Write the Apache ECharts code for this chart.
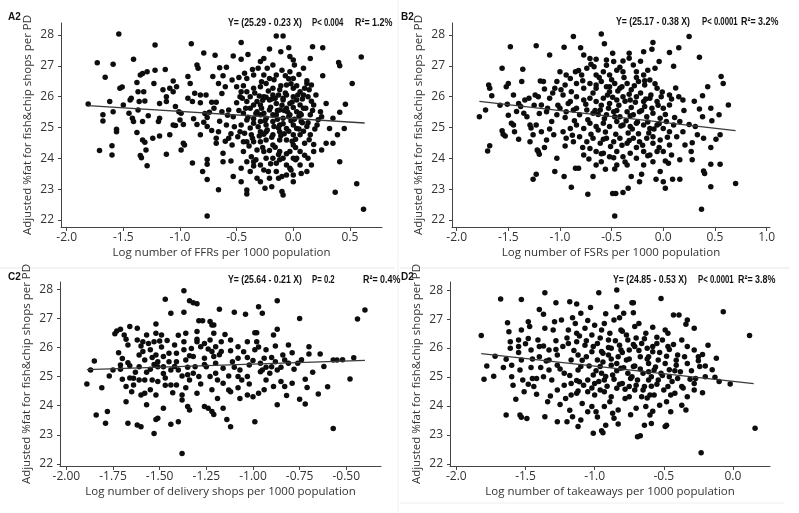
<!DOCTYPE html>
<html><head><meta charset="utf-8">
<script src="https://cdn.jsdelivr.net/npm/echarts@6/dist/echarts.min.js"></script>
<style>html,body{margin:0;padding:0;background:#fff}#c{width:799px;height:513px}</style>
</head><body><div id="c"></div>
<script>
// ---- Data ----
const ffrPoints = [[-1.54,28.03],[-1.73,27.10],[-1.66,26.63],[-1.59,27.05],[-1.41,27.21],[-1.22,27.68],[-0.90,27.72],[-0.79,27.42],[-0.69,27.34],[-0.46,27.76],[-0.53,27.32],[-0.46,27.21],[-0.40,27.37],[-0.15,27.97],[-0.09,27.97],[-0.21,27.55],[-0.11,27.46],[-0.04,27.59],[0.17,27.62],[0.26,27.59],[0.15,27.24],[0.60,27.29],[0.40,27.11],[0.41,27.00],[0.52,26.43],[0.26,26.68],[0.46,25.75],[-1.81,25.76],[-1.71,24.25],[-1.60,24.41],[-1.60,24.11],[-1.68,25.41],[-1.68,25.21],[-1.56,24.94],[-1.56,24.86],[-1.62,25.84],[-1.59,25.51],[-1.53,26.27],[-1.51,26.31],[-1.50,25.73],[-1.44,25.89],[-1.43,25.95],[-1.38,26.46],[-1.35,26.70],[-1.33,26.75],[-1.29,26.81],[-1.22,26.86],[-1.13,26.88],[-1.37,26.16],[-1.32,26.16],[-1.31,25.86],[-1.36,25.84],[-1.45,25.46],[-1.41,25.19],[-1.42,25.30],[-1.37,25.57],[-1.33,25.19],[-1.28,25.38],[-1.38,24.84],[-1.33,24.59],[-1.31,24.52],[-1.35,24.09],[-1.34,24.02],[-1.29,23.76],[-1.30,24.27],[-1.24,24.65],[-1.18,24.72],[-1.12,24.13],[-1.09,24.76],[-1.19,25.19],[-1.18,25.30],[-1.15,26.22],[-1.18,25.78],[-1.23,26.43],[-1.12,26.00],[-1.12,25.84],[-1.09,26.27],[-1.06,26.51],[-1.06,26.16],[-1.03,26.32],[-1.04,25.68],[-1.01,25.51],[-0.99,25.46],[-1.00,25.24],[-1.06,25.08],[-1.04,25.06],[-0.97,24.49],[-0.96,24.43],[-0.99,24.27],[-0.93,26.65],[-0.91,26.43],[-0.89,25.84],[-0.87,26.11],[-0.82,26.05],[-0.77,26.05],[-0.85,27.03],[-0.84,26.92],[-0.72,25.82],[-0.68,25.82],[-0.74,25.49],[-0.76,25.32],[-0.85,25.10],[-0.79,25.17],[-0.76,25.03],[-0.82,24.76],[-0.89,23.85],[-0.76,23.96],[-0.76,23.81],[-0.80,23.57],[-0.76,23.31],[-0.66,22.98],[-0.76,22.13],[-0.71,26.65],[-0.66,26.43],[-0.65,26.94],[-0.59,26.95],[-0.62,26.68],[-0.60,26.32],[-0.54,26.54],[-0.50,26.32],[-0.46,26.16],[-0.47,26.00],[-0.63,25.51],[-0.57,25.57],[-0.53,25.35],[-0.59,25.08],[-0.66,24.86],[-0.68,24.65],[-0.68,24.49],[-0.62,24.16],[-0.54,24.43],[-0.57,24.65],[-0.62,23.89],[-0.55,23.91],[-0.53,23.41],[-0.46,23.24],[-0.41,22.97],[-0.41,22.84],[0.56,23.17],[0.62,22.35],[0.37,22.90],[0.41,23.89],[0.35,24.49],[0.29,24.49],[0.39,24.76],[0.45,24.97],[0.32,24.97],[0.35,25.30],[0.41,25.49],[0.29,25.78],[0.24,25.51],[0.25,25.35],[0.21,25.08],[0.18,24.22],[0.25,24.27],[0.13,24.00],[0.16,23.78],[0.12,23.57],[0.07,23.51],[0.00,23.24],[0.00,23.46],[-0.03,23.68],[-0.09,22.81],[-0.10,22.92],[-0.19,23.08],[-0.25,23.03],[-0.29,23.24],[-0.38,23.57],[-0.32,23.35],[-0.26,23.62],[-0.22,23.57],[-0.13,23.35],[-0.10,23.41],[-0.06,23.78],[-0.15,23.84],[-0.18,24.00],[-0.26,24.22],[-0.32,24.27],[-0.37,24.05],[-0.44,24.22],[-0.41,24.54],[-0.47,24.86],[-0.49,24.70],[-0.43,24.81],[-0.37,24.76],[-0.29,24.86],[-0.24,24.59],[-0.18,24.43],[-0.12,24.59],[-0.03,24.22],[0.00,24.43],[0.06,24.76],[0.03,24.00],[0.10,24.49],[0.15,24.76],[0.12,25.03],[0.07,25.19],[0.00,25.08],[-0.06,24.97],[-0.12,25.08],[-0.18,25.19],[-0.24,25.08],[-0.29,25.19],[-0.35,25.14],[-0.41,25.24],[-0.46,25.08],[-0.44,25.46],[-0.38,25.62],[-0.32,25.51],[-0.26,25.46],[-0.21,25.57],[-0.15,25.41],[-0.09,25.30],[-0.03,25.41],[0.03,25.51],[0.09,25.62],[0.15,25.41],[0.18,25.73],[0.13,26.00],[0.10,26.27],[0.16,26.38],[0.12,26.43],[0.06,26.16],[0.03,25.89],[-0.03,25.78],[-0.09,25.89],[-0.15,25.78],[-0.21,25.89],[-0.26,26.00],[-0.32,25.84],[-0.38,26.00],[-0.41,26.16],[-0.35,26.27],[-0.29,26.32],[-0.24,26.43],[-0.18,26.27],[-0.12,26.22],[-0.06,26.38],[0.00,26.27],[0.00,26.59],[-0.03,26.81],[-0.10,26.86],[-0.15,26.70],[-0.21,26.59],[-0.26,26.70],[-0.31,26.92],[-0.35,26.70],[-0.41,26.59],[-0.43,26.76],[0.00,27.19],[0.01,27.03],[-0.03,27.30],[-0.29,27.14],[-0.18,27.03],[-0.26,27.24],[-0.24,25.30],[-0.18,25.41],[-0.29,25.41],[-0.12,24.86],[-0.24,24.86],[-0.18,24.76],[-0.06,24.59],[0.00,24.76],[0.03,24.97],[-0.06,25.62],[-0.12,25.57],[-0.18,26.05],[-0.06,26.05],[0.00,26.00],[0.06,25.73],[0.07,25.41],[-0.29,25.73],[-0.35,25.73],[-0.41,25.84],[-0.29,24.54],[-0.35,24.54],[-0.44,24.54],[-0.24,24.00],[-0.12,24.22],[-0.09,24.00],[0.00,24.00],[0.06,24.22],[-0.15,23.57],[-0.21,23.35],[-0.06,23.46],[0.06,23.78],[-0.29,23.78],[-0.35,23.89],[-0.41,23.89],[-0.46,23.68]];
const ffrCore = [[-0.45,25.95],[-0.42,25.62],[-0.40,25.33],[-0.38,24.98],[-0.36,24.65],[-0.34,26.12],[-0.33,25.45],[-0.31,25.02],[-0.30,24.72],[-0.28,26.48],[-0.27,25.88],[-0.25,25.22],[-0.23,24.92],[-0.22,26.18],[-0.20,25.66],[-0.19,24.68],[-0.17,26.55],[-0.16,25.95],[-0.14,25.27],[-0.13,24.98],[-0.11,26.35],[-0.10,25.72],[-0.09,25.12],[-0.08,24.80],[-0.07,26.12],[-0.05,25.50],[-0.04,24.88],[-0.02,26.42],[-0.01,25.83],[0.01,25.27],[0.02,24.62],[0.04,26.05],[0.05,25.36],[0.08,25.92],[0.09,24.88],[0.11,25.62],[0.13,25.15],[0.14,26.22],[0.17,25.55],[0.19,24.95],[0.20,26.05],[0.22,25.25],[-0.44,26.35],[-0.39,24.40],[-0.35,23.75],[-0.30,26.02],[-0.27,24.35],[-0.24,25.98],[-0.21,24.25],[-0.19,25.92],[-0.16,24.36],[-0.14,25.55],[-0.12,23.95],[-0.11,24.73],[-0.08,25.55],[-0.06,24.15],[-0.04,26.58],[-0.02,25.22],[0.00,25.65],[0.02,24.35],[0.03,26.35],[0.05,24.95],[0.08,25.15],[0.10,24.10],[0.12,26.52],[0.14,24.60],[0.16,25.85],[0.18,24.45],[-0.48,25.55],[-0.50,25.80],[-0.52,25.02],[-0.55,24.80],[-0.58,25.40],[-0.60,24.55],[-0.63,26.10],[-0.65,25.20],[-0.70,25.62],[-0.72,24.90],[-0.78,25.45],[-0.82,25.80],[-0.88,25.28],[-0.93,25.95],[-0.97,25.10],[-0.48,26.62],[-0.36,26.88],[-0.23,26.92],[-0.07,26.68],[0.05,26.72],[0.09,26.92],[-0.33,23.95],[-0.20,23.82],[-0.02,23.62],[0.02,23.95],[-0.13,24.12],[-0.26,24.78],[-0.09,25.95],[-0.17,25.03],[0.06,25.45],[-0.04,25.35],[-0.13,26.05],[-0.28,25.62],[-0.35,25.28],[0.09,26.05],[-0.01,24.55]];
const fsrPoints = [[-1.78,25.35],[-1.72,25.57],[-1.69,26.38],[-1.68,26.27],[-1.66,26.03],[-1.70,24.24],[-1.68,24.41],[-1.56,26.92],[-1.48,27.62],[-1.52,26.32],[-1.50,26.43],[-1.51,25.75],[-1.56,24.89],[-1.55,24.78],[-1.53,24.72],[-1.47,25.14],[-1.45,25.08],[-1.44,24.86],[-1.40,25.78],[-1.38,25.68],[-1.37,26.49],[-1.36,26.89],[-1.34,25.89],[-1.35,25.46],[-1.29,25.08],[-1.29,24.54],[-1.26,24.76],[-1.21,24.22],[-1.22,24.27],[-1.20,24.13],[-1.23,23.48],[-1.26,23.32],[-1.23,27.65],[-1.10,27.35],[-1.19,26.51],[-1.16,26.49],[-1.24,26.05],[-1.21,26.00],[-1.18,25.73],[-1.13,25.51],[-1.10,25.95],[-1.05,26.27],[-1.03,26.49],[-1.00,26.81],[-0.96,27.60],[-0.87,27.95],[-0.80,27.59],[-0.60,28.03],[-0.57,27.72],[-0.77,27.35],[-0.71,27.24],[-0.65,27.21],[-0.55,27.19],[-0.49,27.41],[-0.48,27.14],[-0.39,27.16],[-0.33,27.41],[-0.19,27.46],[-0.11,27.54],[-0.10,27.76],[-0.04,27.14],[0.06,27.43],[0.10,26.99],[0.15,27.59],[0.25,27.95],[0.35,27.28],[0.56,26.65],[0.58,26.43],[0.63,25.73],[0.54,25.41],[0.46,25.62],[0.43,26.32],[0.38,26.03],[0.47,25.22],[0.55,24.76],[0.51,24.62],[0.46,24.35],[0.39,24.65],[0.38,25.35],[0.31,25.03],[0.33,24.76],[0.27,24.22],[0.28,23.95],[0.39,23.59],[0.40,23.51],[0.46,23.81],[0.55,23.81],[0.46,23.08],[0.70,23.18],[0.37,22.35],[0.21,24.43],[0.19,24.86],[0.16,23.95],[0.16,23.32],[0.09,23.32],[0.02,23.03],[0.00,23.24],[-0.07,23.32],[-0.03,23.57],[0.02,23.91],[0.05,23.84],[-0.23,23.24],[-0.21,23.48],[-0.31,23.41],[-0.34,23.03],[-0.39,22.89],[-0.46,22.86],[-0.49,22.86],[-0.47,22.13],[-0.47,23.65],[-0.56,23.64],[-0.68,23.41],[-0.73,22.83],[-0.65,23.78],[-0.82,23.68],[-0.85,23.68],[-0.89,23.06],[-0.96,23.41],[-1.05,23.57],[-1.03,24.00],[-0.94,26.70],[-0.90,26.59],[-0.85,26.81],[-0.79,26.70],[-0.74,26.92],[-0.67,26.97],[-0.65,26.70],[-0.58,26.81],[-0.52,26.70],[-0.45,26.86],[-0.39,26.81],[-0.29,27.03],[-0.26,26.81],[-0.19,26.70],[-0.15,26.86],[-0.95,26.38],[-0.89,26.16],[-0.84,26.43],[-0.77,26.27],[-0.71,26.43],[-0.65,26.27],[-0.60,26.49],[-0.55,26.32],[-0.52,26.16],[-0.47,26.43],[-0.42,26.27],[-0.35,26.43],[-0.31,26.22],[-0.24,26.49],[-0.18,26.38],[-0.13,26.54],[-0.06,26.27],[-0.02,26.00],[0.06,26.05],[0.15,26.00],[0.19,25.89],[0.06,25.73],[0.00,25.62],[-0.06,25.84],[-0.13,25.95],[-0.19,25.84],[-0.26,26.00],[-0.32,25.89],[-0.39,26.00],[-0.45,25.89],[-0.52,25.78],[-0.58,25.95],[-0.65,25.84],[-0.71,25.95],[-0.77,25.89],[-0.84,26.00],[-0.90,25.84],[-0.97,26.05],[-1.00,25.62],[-0.94,25.51],[-0.87,25.57],[-0.81,25.41],[-0.74,25.57],[-0.68,25.46],[-0.61,25.57],[-0.55,25.41],[-0.48,25.51],[-0.42,25.35],[-0.35,25.51],[-0.29,25.41],[-0.23,25.51],[-0.16,25.35],[-0.10,25.46],[-0.03,25.30],[0.03,25.19],[0.10,25.08],[0.16,25.19],[0.06,24.86],[0.00,24.97],[-0.06,25.08],[-0.13,24.97],[-0.19,25.08],[-0.26,25.14],[-0.32,25.03],[-0.39,25.08],[-0.45,25.19],[-0.52,25.03],[-0.58,25.14],[-0.65,25.03],[-0.71,25.14],[-0.77,24.97],[-0.84,25.08],[-0.90,24.97],[-0.97,24.86],[-0.94,24.65],[-0.87,24.54],[-0.81,24.70],[-0.74,24.54],[-0.68,24.65],[-0.61,24.49],[-0.55,24.65],[-0.48,24.54],[-0.42,24.65],[-0.35,24.49],[-0.29,24.65],[-0.23,24.54],[-0.16,24.65],[-0.10,24.49],[-0.03,24.59],[-0.06,24.22],[-0.13,24.11],[-0.19,24.22],[-0.26,24.00],[-0.32,24.16],[-0.39,24.05],[-0.45,24.22],[-0.52,24.05],[-0.58,24.16],[-0.65,24.22],[-0.71,24.32],[-0.77,24.11],[0.06,24.43],[0.08,24.11],[0.13,24.70],[-0.35,23.78],[-0.19,23.78],[-0.10,23.89],[0.00,24.22],[-0.45,23.78],[-0.60,23.89],[-1.08,25.19],[-1.03,25.41],[-1.06,24.76],[-1.13,24.59],[-1.18,24.86],[-1.23,25.08]];
const fsrCore = [[-0.78,26.52],[-0.75,25.75],[-0.73,25.25],[-0.70,24.78],[-0.68,26.12],[-0.66,25.55],[-0.63,24.92],[-0.62,26.62],[-0.60,25.72],[-0.57,25.28],[-0.56,24.85],[-0.54,26.05],[-0.53,25.62],[-0.51,24.38],[-0.50,26.55],[-0.49,25.98],[-0.47,25.35],[-0.46,24.78],[-0.44,26.18],[-0.43,25.72],[-0.41,25.05],[-0.40,24.42],[-0.38,26.62],[-0.37,25.85],[-0.36,25.22],[-0.34,24.82],[-0.33,26.08],[-0.31,25.65],[-0.30,24.95],[-0.28,26.35],[-0.27,25.82],[-0.25,25.18],[-0.24,24.80],[-0.22,26.12],[-0.21,25.55],[-0.20,24.42],[-0.18,26.52],[-0.17,25.92],[-0.15,25.18],[-0.14,24.82],[-0.12,26.05],[-0.11,25.62],[-0.09,24.95],[-0.08,26.42],[-0.05,25.72],[-0.04,25.12],[-0.01,26.15],[0.02,25.42],[0.04,24.68],[0.08,25.92],[0.11,25.32],[0.12,26.28],[-0.86,25.22],[-0.88,24.75],[-0.92,25.78],[-0.95,25.32],[-0.99,26.22],[-1.02,25.72],[-1.07,26.12],[-1.12,25.62],[-1.15,26.25],[-1.20,25.45],[-1.25,25.72],[-1.30,25.95],[-1.32,25.35],[-1.42,25.52],[-1.45,26.05],[-1.50,25.40],[-1.58,25.72],[-0.82,26.85],[-0.70,27.05],[-0.55,27.02],[-0.42,26.95],[-0.33,27.25],[-0.22,27.15],[-0.08,26.92],[-0.72,23.98],[-0.60,24.15],[-0.48,24.02],[-0.37,23.88],[-0.26,24.35],[-0.15,24.08],[-0.04,24.35],[-0.63,25.42],[-0.45,25.55],[-0.32,25.38],[-0.18,25.68],[-0.52,26.32],[-0.40,26.32],[-0.26,26.62],[-0.65,26.38],[-0.58,24.62],[-0.33,24.58],[-0.10,24.70],[-0.84,25.62],[-0.78,24.35],[-0.95,24.40],[-1.10,24.95],[-1.15,24.35],[-1.28,24.98],[-1.40,24.62],[0.20,25.55],[0.25,25.10],[0.30,25.85],[0.28,24.50],[0.35,25.60]];
const deliveryPoints = [[-1.89,24.75],[-1.87,25.23],[-1.85,25.54],[-1.81,24.62],[-1.84,23.68],[-1.79,23.40],[-1.78,23.80],[-1.77,25.02],[-1.75,25.23],[-1.74,26.47],[-1.73,26.57],[-1.71,26.63],[-1.72,25.82],[-1.71,25.40],[-1.71,25.25],[-1.70,24.91],[-1.69,26.43],[-1.68,26.28],[-1.67,26.09],[-1.67,25.48],[-1.68,24.66],[-1.68,24.14],[-1.67,23.40],[-1.66,26.72],[-1.66,25.37],[-1.64,24.94],[-1.64,24.71],[-1.65,24.48],[-1.62,26.66],[-1.62,26.26],[-1.61,25.74],[-1.61,25.34],[-1.61,24.88],[-1.62,23.34],[-1.60,23.28],[-1.59,26.20],[-1.59,25.86],[-1.58,25.57],[-1.58,24.88],[-1.60,24.37],[-1.58,24.43],[-1.57,24.03],[-1.57,26.43],[-1.56,26.14],[-1.55,25.92],[-1.54,25.66],[-1.55,25.25],[-1.54,24.88],[-1.52,26.81],[-1.52,26.49],[-1.53,26.20],[-1.52,25.74],[-1.51,25.51],[-1.51,25.34],[-1.51,24.83],[-1.52,24.37],[-1.52,23.53],[-1.51,23.57],[-1.53,23.05],[-1.49,26.43],[-1.49,26.02],[-1.48,25.69],[-1.48,25.34],[-1.48,25.11],[-1.47,24.70],[-1.48,23.91],[-1.47,27.66],[-1.46,26.24],[-1.45,25.51],[-1.44,25.23],[-1.44,24.71],[-1.44,23.36],[-1.44,27.18],[-1.42,26.09],[-1.41,25.80],[-1.41,25.51],[-1.40,25.23],[-1.41,24.71],[-1.40,23.45],[-1.38,22.36],[-1.38,24.37],[-1.38,24.20],[-1.37,27.21],[-1.37,27.95],[-1.37,26.20],[-1.37,25.92],[-1.36,25.57],[-1.35,25.32],[-1.35,25.06],[-1.36,26.49],[-1.34,27.61],[-1.32,27.54],[-1.30,27.50],[-1.34,24.88],[-1.35,23.97],[-1.34,23.85],[-1.33,25.97],[-1.32,25.69],[-1.31,25.34],[-1.30,26.55],[-1.30,26.20],[-1.29,25.00],[-1.30,24.43],[-1.29,26.92],[-1.27,26.92],[-1.28,26.03],[-1.26,26.14],[-1.26,25.63],[-1.25,25.34],[-1.26,23.97],[-1.24,23.91],[-1.23,26.89],[-1.22,26.77],[-1.21,26.77],[-1.23,26.26],[-1.22,25.86],[-1.23,25.00],[-1.22,23.80],[-1.21,23.70],[-1.21,26.49],[-1.20,26.03],[-1.21,25.69],[-1.20,25.46],[-1.19,24.88],[-1.18,27.31],[-1.19,24.25],[-1.17,26.20],[-1.17,25.86],[-1.16,25.29],[-1.16,24.77],[-1.16,23.91],[-1.14,23.53],[-1.12,23.28],[-1.12,26.26],[-1.12,25.89],[-1.11,25.51],[-1.13,24.54],[-1.12,24.48],[-1.10,27.21],[-1.08,25.63],[-1.07,25.23],[-1.08,25.00],[-1.06,24.88],[-1.07,24.25],[-1.04,27.14],[-1.03,26.20],[-1.03,25.66],[-1.02,25.40],[-1.03,25.00],[-1.03,24.37],[-1.00,24.31],[-0.99,26.51],[-0.98,26.51],[-0.98,26.20],[-0.99,25.92],[-0.97,27.40],[-0.95,27.18],[-0.96,25.46],[-0.96,25.17],[-0.97,24.43],[-0.99,23.45],[-0.94,25.63],[-0.93,25.32],[-0.93,25.92],[-0.93,24.88],[-0.90,25.66],[-0.89,26.43],[-0.87,26.63],[-0.87,27.61],[-0.88,25.51],[-0.87,25.23],[-0.89,24.66],[-0.87,24.03],[-0.85,24.83],[-0.83,24.66],[-0.79,24.77],[-0.84,25.74],[-0.83,25.57],[-0.79,25.82],[-0.75,27.00],[-0.76,25.46],[-0.75,24.22],[-0.72,24.06],[-0.72,24.91],[-0.70,26.03],[-0.70,25.78],[-0.71,24.63],[-0.65,24.40],[-0.64,25.78],[-0.57,25.57],[-0.55,25.57],[-0.57,23.22],[-0.44,26.98],[-0.40,27.29],[-0.81,25.46],[-0.90,25.34],[-0.95,25.23],[-0.81,26.09],[-1.08,26.03]];
const deliveryCore = [[-1.70,25.62],[-1.66,24.95],[-1.63,25.15],[-1.60,26.05],[-1.57,25.15],[-1.55,24.55],[-1.53,25.42],[-1.50,26.22],[-1.47,24.95],[-1.45,25.80],[-1.43,24.45],[-1.42,25.35],[-1.40,26.42],[-1.38,25.02],[-1.36,24.62],[-1.34,25.72],[-1.32,25.12],[-1.30,26.28],[-1.28,24.75],[-1.26,25.42],[-1.24,25.95],[-1.22,24.55],[-1.20,25.12],[-1.18,25.75],[-1.15,26.45],[-1.13,25.02],[-1.10,25.32],[-1.08,24.62],[-1.05,25.85],[-1.02,24.75],[-1.00,25.55],[-0.97,26.02],[-0.94,24.55],[-0.91,25.12],[-0.88,26.05],[-0.85,25.32],[-0.82,24.35],[-0.78,25.25],[-0.74,25.58],[-0.68,25.15],[-0.62,25.35],[-0.60,24.65],[-0.52,25.58],[-0.48,24.92],[-0.46,25.65]];
const takeawayPoints = [[-1.82,26.43],[-1.78,25.38],[-1.80,24.92],[-1.73,25.03],[-1.72,25.72],[-1.68,27.69],[-1.66,25.33],[-1.64,25.61],[-1.64,23.69],[-1.63,26.87],[-1.62,26.56],[-1.61,26.22],[-1.61,25.99],[-1.60,25.41],[-1.60,25.01],[-1.59,24.72],[-1.57,24.23],[-1.54,23.69],[-1.53,23.61],[-1.53,27.68],[-1.53,26.62],[-1.55,26.28],[-1.55,26.05],[-1.53,25.59],[-1.54,25.24],[-1.52,24.90],[-1.51,24.49],[-1.49,23.57],[-1.48,26.91],[-1.47,26.74],[-1.48,26.33],[-1.46,25.93],[-1.46,25.33],[-1.45,24.95],[-1.44,24.67],[-1.42,24.41],[-1.40,27.33],[-1.41,26.28],[-1.40,25.70],[-1.39,25.33],[-1.37,25.01],[-1.36,27.91],[-1.37,27.17],[-1.36,26.68],[-1.36,23.63],[-1.37,26.07],[-1.34,24.15],[-1.33,25.93],[-1.33,25.59],[-1.33,25.24],[-1.31,24.90],[-1.30,26.62],[-1.29,26.91],[-1.28,26.25],[-1.28,27.56],[-1.27,25.76],[-1.27,25.41],[-1.27,24.55],[-1.27,23.46],[-1.24,26.97],[-1.23,26.05],[-1.22,25.13],[-1.21,24.26],[-1.20,23.46],[-1.18,27.60],[-1.19,26.62],[-1.19,26.16],[-1.17,25.59],[-1.17,24.78],[-1.16,23.63],[-1.13,27.52],[-1.14,26.85],[-1.13,26.51],[-1.13,26.22],[-1.12,25.76],[-1.12,25.24],[-1.13,24.44],[-1.12,23.29],[-1.10,27.20],[-1.10,25.36],[-1.09,24.09],[-1.10,23.52],[-1.07,26.68],[-1.07,26.10],[-1.06,25.70],[-1.05,24.90],[-1.05,24.49],[-1.03,27.40],[-1.02,26.45],[-1.02,25.87],[-1.01,25.07],[-1.00,24.38],[-0.99,23.80],[-0.97,27.91],[-0.98,26.16],[-0.98,25.59],[-0.96,25.36],[-0.95,23.15],[-0.94,23.08],[-0.95,26.62],[-0.94,25.82],[-0.93,24.90],[-0.93,24.49],[-0.92,23.34],[-0.90,26.28],[-0.89,26.51],[-0.88,25.99],[-0.88,25.41],[-0.87,25.07],[-0.87,23.75],[-0.86,26.97],[-0.84,28.00],[-0.84,27.43],[-0.83,25.70],[-0.83,23.38],[-0.82,26.10],[-0.81,25.30],[-0.80,24.78],[-0.79,27.20],[-0.78,24.26],[-0.77,25.59],[-0.76,26.28],[-0.75,25.93],[-0.73,25.01],[-0.73,27.56],[-0.72,27.56],[-0.72,27.22],[-0.71,26.74],[-0.72,25.36],[-0.71,24.55],[-0.70,23.92],[-0.69,22.94],[-0.67,22.97],[-0.67,25.70],[-0.66,26.16],[-0.65,25.13],[-0.64,23.34],[-0.63,26.51],[-0.62,25.99],[-0.61,25.47],[-0.61,24.90],[-0.60,24.38],[-0.60,23.69],[-0.59,23.40],[-0.58,25.87],[-0.57,25.24],[-0.55,26.37],[-0.55,26.16],[-0.54,25.59],[-0.54,24.90],[-0.53,24.03],[-0.52,27.71],[-0.49,23.29],[-0.48,23.34],[-0.47,26.05],[-0.46,25.95],[-0.47,24.67],[-0.45,24.38],[-0.45,23.80],[-0.43,27.14],[-0.39,27.14],[-0.42,25.22],[-0.41,25.41],[-0.40,24.95],[-0.37,24.03],[-0.34,23.86],[-0.34,26.82],[-0.33,26.97],[-0.31,24.92],[-0.28,26.68],[-0.27,24.95],[-0.25,25.56],[-0.24,25.36],[-0.22,24.46],[-0.20,25.38],[-0.20,25.01],[-0.18,26.10],[-0.13,24.99],[-0.23,22.39],[-0.07,27.25],[-0.02,24.76],[0.12,26.43],[0.16,23.23],[-0.75,24.32],[-0.88,24.32],[-0.93,23.98],[-1.02,23.98],[-1.05,23.80],[-1.01,23.06],[-1.11,24.84],[-1.17,24.38],[-0.83,23.86],[-0.63,23.98],[-0.57,24.38],[-0.66,24.32],[-0.52,25.13],[-0.49,25.47],[-0.75,24.67],[-0.84,24.61],[-0.96,24.55],[-1.00,24.78],[-0.95,25.13],[-0.90,25.76],[-0.84,25.47],[-0.81,25.93],[-0.76,25.13],[-0.69,24.90],[-0.64,24.67],[-0.59,25.01],[-0.61,25.70],[-0.71,26.05],[-0.81,26.62],[-0.93,26.85],[-1.00,26.79],[-0.51,26.28],[-0.47,26.51],[-0.37,26.28],[-0.35,25.70],[-0.33,26.05],[-0.28,25.93],[-0.25,25.70],[-0.37,24.67],[-0.42,24.44],[-0.33,24.32],[-0.28,24.78],[-0.40,25.76],[-0.33,25.47],[-0.46,25.01]];
const takeawayCore = [[-1.28,25.95],[-1.25,25.28],[-1.22,24.72],[-1.20,26.35],[-1.18,25.05],[-1.15,25.92],[-1.13,24.88],[-1.11,26.42],[-1.09,25.58],[-1.08,24.72],[-1.06,26.25],[-1.04,25.38],[-1.02,24.62],[-1.01,26.05],[-0.99,25.22],[-0.97,24.85],[-0.96,26.35],[-0.94,25.52],[-0.92,25.02],[-0.91,24.68],[-0.90,26.02],[-0.88,25.62],[-0.86,24.92],[-0.85,26.25],[-0.84,25.22],[-0.82,24.75],[-0.80,25.85],[-0.79,25.32],[-0.78,24.58],[-0.77,26.45],[-0.75,25.62],[-0.74,24.95],[-0.72,26.12],[-0.71,25.38],[-0.70,24.72],[-0.68,25.92],[-0.67,25.28],[-0.65,24.55],[-0.64,26.32],[-0.62,25.62],[-0.61,25.18],[-0.59,24.68],[-0.58,26.05],[-0.56,25.35],[-0.55,24.75],[-0.53,25.85],[-0.51,25.05],[-0.50,24.55],[-0.48,25.72],[-0.46,25.25],[-0.44,24.85],[-0.43,26.12],[-0.41,25.58],[-0.38,25.18],[-0.36,24.62],[-1.35,25.55],[-1.40,26.05],[-1.45,25.62],[-1.50,26.15],[-1.55,25.85],[-1.48,24.75],[-1.42,24.95],[-1.32,24.35],[-1.25,24.05],[-1.18,23.85],[-0.98,23.62],[-0.86,23.58],[-0.74,23.70],[-0.58,23.82],[-0.48,24.15],[-1.05,26.95],[-0.92,27.18],[-0.82,27.05],[-0.68,26.85],[-0.58,26.72],[-0.49,26.62],[-1.16,27.05],[-0.30,25.22],[-0.28,24.55],[-0.22,25.78],[-0.15,25.25],[-0.10,24.85],[-0.12,25.65],[-0.95,25.88],[-0.80,26.58],[-0.70,26.35],[-0.62,24.28],[-0.89,24.15],[-1.12,24.52]];
// fitted lines (end points)
const fitFFR = [[-1.81,25.71],[0.63,25.145]];
const fitFSR = [[-1.78,25.85],[0.70,24.90]];
const fitDelivery = [[-1.89,25.24],[-0.40,25.56]];
const fitTakeaway = [[-1.82,25.81],[0.15,24.77]];
// tick labels
const yTicks = [22,23,24,25,26,27,28];
const xTicksA = [-2.0,-1.5,-1.0,-0.5,0.0,0.5];
const xTicksB = [-2.0,-1.5,-1.0,-0.5,0.0,0.5,1.0];
const xTicksC = [-2.00,-1.75,-1.50,-1.25,-1.00,-0.75,-0.50];
const xTicksD = [-2.0,-1.5,-1.0,-0.5,0.0];
const xNames = ['Log number of FFRs per 1000 population','Log number of FSRs per 1000 population','Log number of delivery shops per 1000 population','Log number of takeaways per 1000 population'];
const yName = 'Adjusted %fat for fish&chip shops per PD';
const panelLabels = ['A2','B2','C2','D2'];
const stats = [['Y= (25.29 - 0.23 X)','P< 0.004','R\u00b2= 1.2%'],['Y= (25.17 - 0.38 X)','P< 0.0001','R\u00b2= 3.2%'],['Y= (25.64 - 0.21 X)','P= 0.2','R\u00b2= 0.4%'],['Y= (24.85 - 0.53 X)','P< 0.0001','R\u00b2= 3.8%']];

// ---- Layout ----
const FONT = "'Open Sans', 'Noto Sans', sans-serif";
const grids = [
  {left:61, top:23, width:321, height:204},
  {left:452, top:23, width:318, height:204},
  {left:60, top:282, width:321, height:184},
  {left:450, top:282, width:320, height:184}
];
const xr = [[-2.05,0.783],[-2.045,1.033],[-2.034,-0.314],[-2.046,0.268]];
const yr = [[21.77,28.39],[21.77,28.39],[21.93,28.25],[21.93,28.28]];
const xt = [xTicksA, xTicksB, xTicksC, xTicksD];
const dec = [1,1,2,1];
const axisCol = '#444';

const xAxes = grids.map((g,i)=>({
  gridIndex:i, type:'value', min:xr[i][0], max:xr[i][1],
  axisLine:{show:true, onZero:false, lineStyle:{color:axisCol, width:1}},
  axisTick:{show:true, length:4, customValues:xt[i], lineStyle:{color:axisCol}},
  axisLabel:{customValues:xt[i], formatter:v=>Number(v).toFixed(dec[i]), fontFamily:FONT, fontSize:12, color:'#333', margin:5},
  splitLine:{show:false},
  name:xNames[i], nameLocation:'middle', nameGap:20,
  nameTextStyle:{fontFamily:FONT, fontSize:11.5, color:'#333', fontWeight:500}
}));
const yAxes = grids.map((g,i)=>({
  gridIndex:i, type:'value', min:yr[i][0], max:yr[i][1],
  axisLine:{show:true, onZero:false, lineStyle:{color:axisCol, width:1}},
  axisTick:{show:true, length:3, customValues:yTicks, lineStyle:{color:axisCol}},
  axisLabel:{customValues:yTicks, fontFamily:FONT, fontSize:12, color:'#333', margin:7},
  splitLine:{show:false},
  name:yName, nameLocation:'middle', nameGap:27,
  nameTextStyle:{fontFamily:FONT, fontSize:11.5, color:'#333', fontWeight:500}
}));
const pts = [ffrPoints.concat(ffrCore), fsrPoints.concat(fsrCore), deliveryPoints.concat(deliveryCore), takeawayPoints.concat(takeawayCore)];
const fits = [fitFFR, fitFSR, fitDelivery, fitTakeaway];
const series = [];
pts.forEach((p,i)=>{
  series.push({type:'scatter', xAxisIndex:i, yAxisIndex:i, data:p, symbolSize:5.5, itemStyle:{color:'#0d0d0d', opacity:1}, silent:true, z:2});
  series.push({type:'line', xAxisIndex:i, yAxisIndex:i, data:fits[i], symbol:'none', lineStyle:{color:'#3a3a3a', width:1.3}, silent:true, z:3});
});

const statPos = [
  [[228,23],[312,23],[355,23]],
  [[616,22],[702,22],[741,22]],
  [[228,280],[312,280],[363,280]],
  [[613,280],[698,280],[738,280]]
];
const statScale = [0.83, 0.74, 0.85];
const labelPos = [[8,17],[401,17],[8,277],[401,277]];
const graphic = [];
graphic.push({type:'line', shape:{x1:0,y1:268,x2:395,y2:268}, style:{stroke:'#e6e6e6', lineWidth:1}, silent:true});
graphic.push({type:'line', shape:{x1:400,y1:268,x2:790,y2:268}, style:{stroke:'#e6e6e6', lineWidth:1}, silent:true});
graphic.push({type:'line', shape:{x1:398,y1:0,x2:398,y2:513}, style:{stroke:'#efefef', lineWidth:1}, silent:true});
graphic.push({type:'line', shape:{x1:400,y1:503,x2:784,y2:503}, style:{stroke:'#eeeeee', lineWidth:1}, silent:true});
panelLabels.forEach((t,i)=>{
  graphic.push({type:'text', x:labelPos[i][0], y:labelPos[i][1], style:{text:t, font:"bold 10px 'Liberation Sans', sans-serif", fill:'#111', textVerticalAlign:'middle'}, silent:true});
});
stats.forEach((s,i)=>{
  s.forEach((t,j)=>{
    graphic.push({type:'text', x:statPos[i][j][0], y:statPos[i][j][1], scaleX:statScale[j], style:{text:t, font:"bold 10.5px 'Liberation Sans', sans-serif", fill:'#111', textVerticalAlign:'middle'}, silent:true});
  });
});

const chart = echarts.init(document.getElementById('c'), null, {renderer:'canvas'});
chart.setOption({
  animation:false, backgroundColor:'#fff',
  grid:grids.map(g=>Object.assign({containLabel:false}, g)),
  xAxis:xAxes, yAxis:yAxes, series:series, graphic:graphic
});
</script></body></html>
